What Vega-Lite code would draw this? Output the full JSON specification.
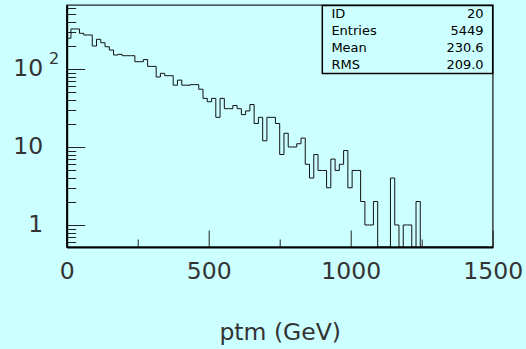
{
  "$schema": "https://vega.github.io/schema/vega-lite/v6.json",
  "width": 426,
  "height": 242,
  "autosize": {"type": "none"},
  "padding": {"left": 66.7, "top": 5, "right": 33.3, "bottom": 102},
  "background": "#ccffff",
  "config": {
    "view": {"stroke": "#222", "strokeWidth": 1.3},
    "axis": {"labelFont": "DejaVu Sans", "titleFont": "DejaVu Sans", "grid": false}
  },
  "datasets": {
    "hist": [
      {"lo": 0, "n": 248}, {"lo": 15, "n": 326}, {"lo": 30, "n": 326}, {"lo": 45, "n": 287}, {"lo": 60, "n": 273},
      {"lo": 75, "n": 273}, {"lo": 90, "n": 197}, {"lo": 105, "n": 240}, {"lo": 120, "n": 217}, {"lo": 135, "n": 193},
      {"lo": 150, "n": 175}, {"lo": 165, "n": 151}, {"lo": 180, "n": 154}, {"lo": 195, "n": 148}, {"lo": 210, "n": 148},
      {"lo": 225, "n": 148}, {"lo": 240, "n": 124}, {"lo": 255, "n": 124}, {"lo": 270, "n": 132}, {"lo": 285, "n": 108},
      {"lo": 300, "n": 108}, {"lo": 315, "n": 79}, {"lo": 330, "n": 88}, {"lo": 345, "n": 82}, {"lo": 360, "n": 82},
      {"lo": 375, "n": 62}, {"lo": 390, "n": 72}, {"lo": 405, "n": 62}, {"lo": 420, "n": 62}, {"lo": 435, "n": 63},
      {"lo": 450, "n": 63}, {"lo": 465, "n": 55}, {"lo": 480, "n": 42}, {"lo": 495, "n": 38}, {"lo": 510, "n": 42},
      {"lo": 525, "n": 24}, {"lo": 540, "n": 42}, {"lo": 555, "n": 31}, {"lo": 570, "n": 31}, {"lo": 585, "n": 34},
      {"lo": 600, "n": 31}, {"lo": 615, "n": 26}, {"lo": 630, "n": 29}, {"lo": 645, "n": 35}, {"lo": 660, "n": 20},
      {"lo": 675, "n": 24}, {"lo": 690, "n": 12}, {"lo": 705, "n": 24}, {"lo": 720, "n": 24}, {"lo": 735, "n": 20},
      {"lo": 750, "n": 8}, {"lo": 765, "n": 15}, {"lo": 780, "n": 10}, {"lo": 795, "n": 10}, {"lo": 810, "n": 11},
      {"lo": 825, "n": 13}, {"lo": 840, "n": 6}, {"lo": 855, "n": 4}, {"lo": 870, "n": 8}, {"lo": 885, "n": 5},
      {"lo": 900, "n": 5}, {"lo": 915, "n": 3}, {"lo": 930, "n": 7}, {"lo": 945, "n": 5}, {"lo": 960, "n": 6},
      {"lo": 975, "n": 9}, {"lo": 990, "n": 3}, {"lo": 1005, "n": 5}, {"lo": 1020, "n": 5}, {"lo": 1035, "n": 2},
      {"lo": 1050, "n": 1}, {"lo": 1065, "n": 1}, {"lo": 1080, "n": 2}, {"lo": 1095, "n": 0}, {"lo": 1110, "n": 0},
      {"lo": 1125, "n": 0}, {"lo": 1140, "n": 4}, {"lo": 1155, "n": 1}, {"lo": 1170, "n": 0}, {"lo": 1185, "n": 1},
      {"lo": 1200, "n": 1}, {"lo": 1215, "n": 0}, {"lo": 1230, "n": 2}, {"lo": 1245, "n": 0}, {"lo": 1260, "n": 0},
      {"lo": 1275, "n": 0}, {"lo": 1290, "n": 0}, {"lo": 1305, "n": 0}, {"lo": 1320, "n": 0}, {"lo": 1335, "n": 0},
      {"lo": 1350, "n": 0}, {"lo": 1365, "n": 0}, {"lo": 1380, "n": 0}, {"lo": 1395, "n": 0}, {"lo": 1410, "n": 0},
      {"lo": 1425, "n": 0}, {"lo": 1440, "n": 0}, {"lo": 1455, "n": 0}, {"lo": 1470, "n": 0}, {"lo": 1485, "n": 0}
    ],
    "stats": [
      {"row": 0, "stat": "ID", "value": "20"},
      {"row": 1, "stat": "Entries", "value": "5449"},
      {"row": 2, "stat": "Mean", "value": "230.6"},
      {"row": 3, "stat": "RMS", "value": "209.0"}
    ]
  },
  "layer": [
    {
      "data": {"name": "hist"},
      "mark": {"type": "line", "interpolate": "step-after", "stroke": "#111", "strokeWidth": 1, "invalid": "show"},
      "encoding": {
        "x": {"field": "lo", "type": "quantitative",
          "scale": {"domain": [0, 1500], "nice": false, "zero": false},
          "axis": {"orient": "bottom", "values": [0, 500, 1000, 1500], "format": "d", "ticks": false, "domain": false,
            "labelFontSize": 23.5, "labelPadding": 12, "labelFlush": false, "labelOverlap": false, "labelColor": "#333",
            "title": "ptm (GeV)", "titleFontSize": 23.5, "titleFontWeight": "normal", "titleColor": "#333", "titlePadding": 38}},
        "y": {"field": "n", "type": "quantitative",
          "scale": {"type": "log", "domain": [0.522, 661.5], "nice": false, "clamp": true},
          "axis": {"orient": "left", "values": [1, 10, 100], "labelExpr": "datum.value < 5 ? '1' : '10'", "ticks": false, "domain": false,
            "labelFontSize": 23.5, "labelPadding": 24, "labelFlush": false, "labelOverlap": false, "labelColor": "#333", "title": null}}
      }
    },
    {
      "data": {"name": "hist"},
      "mark": {"type": "point", "opacity": 0},
      "encoding": {
        "x": {"field": "lo", "type": "quantitative",
          "axis": {"orient": "bottom", "values": [0, 500, 1000, 1500], "labels": false, "domain": true, "domainColor": "#000", "domainWidth": 2,
            "tickSize": -17, "tickColor": "#222", "tickWidth": 1, "title": null}},
        "y": {"field": "n", "type": "quantitative",
          "scale": {"type": "log", "domain": [0.522, 661.5], "nice": false, "clamp": true},
          "axis": {"orient": "left", "values": [1, 10, 100], "labels": false, "domain": true, "domainColor": "#000", "domainWidth": 2,
            "tickSize": -18, "tickColor": "#222", "tickWidth": 1, "title": null}}
      }
    },
    {
      "data": {"name": "hist"},
      "mark": {"type": "point", "opacity": 0},
      "encoding": {
        "x": {"field": "lo", "type": "quantitative",
          "axis": {"orient": "bottom", "values": [250, 750, 1250], "labels": false, "domain": false,
            "tickSize": -8, "tickColor": "#222", "tickWidth": 1, "title": null}},
        "y": {"field": "n", "type": "quantitative",
          "scale": {"type": "log", "domain": [0.522, 661.5], "nice": false, "clamp": true},
          "axis": {"orient": "left", "values": [0.6, 0.7, 0.8, 0.9, 2, 3, 4, 5, 6, 7, 8, 9, 20, 30, 40, 50, 60, 70, 80, 90, 200, 300, 400, 500, 600],
            "labels": false, "domain": false, "tickSize": -9, "tickColor": "#222", "tickWidth": 1, "title": null}}
      }
    },
    {
      "data": {"name": "hist"},
      "mark": {"type": "point", "opacity": 0},
      "encoding": {
        "x": {"field": "lo", "type": "quantitative", "axis": null},
        "y": {"field": "n", "type": "quantitative",
          "scale": {"type": "log", "domain": [0.522, 661.5], "nice": false, "clamp": true},
          "axis": {"orient": "left", "values": [100], "labelExpr": "'2'", "ticks": false, "domain": false,
            "labelFontSize": 16, "labelPadding": 8, "labelOffset": -10, "labelFlush": false, "labelOverlap": false, "labelColor": "#333", "title": null}}
      }
    },
    {
      "data": {"name": "stats"},
      "layer": [
        {
          "mark": {"type": "text", "align": "left", "baseline": "middle", "font": "DejaVu Sans", "fontSize": 13, "color": "#000"},
          "encoding": {
            "x": {"datum": 932, "type": "quantitative", "axis": null},
            "y": {"field": "row", "type": "quantitative", "scale": {"domain": [-0.529, 13.706], "reverse": true, "nice": false, "zero": false}, "axis": null},
            "text": {"field": "stat"}
          }
        },
        {
          "mark": {"type": "text", "align": "right", "baseline": "middle", "font": "DejaVu Sans", "fontSize": 13, "color": "#000"},
          "encoding": {
            "x": {"datum": 1468, "type": "quantitative", "axis": null},
            "y": {"field": "row", "type": "quantitative", "axis": null},
            "text": {"field": "value"}
          }
        },
        {
          "data": {"values": [{}]},
          "mark": {"type": "rect", "fill": null, "stroke": "#000", "strokeWidth": 1.5},
          "encoding": {
            "x": {"datum": 900, "type": "quantitative", "axis": null},
            "x2": {"datum": 1500},
            "y": {"datum": -0.5, "type": "quantitative", "axis": null},
            "y2": {"datum": 3.5}
          }
        }
      ]
    }
  ],
  "resolve": {"scale": {"y": "independent"}, "axis": {"x": "independent", "y": "independent"}}
}
